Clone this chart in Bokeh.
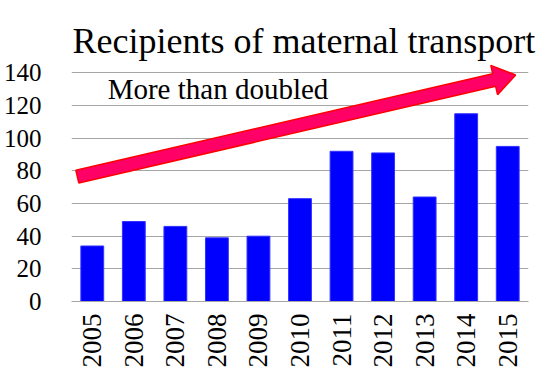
import math
from bokeh.plotting import figure
from bokeh.models import FactorRange, Range1d, FixedTicker
from bokeh.core.properties import value
from bokeh.embed import file_html
from bokeh.resources import INLINE

# ---- data ----
years = ["2005", "2006", "2007", "2008", "2009", "2010",
         "2011", "2012", "2013", "2014", "2015"]
counts = [34, 49, 46, 39, 40, 63, 92, 91, 64, 115, 95]
y_ticks = [0, 20, 40, 60, 80, 100, 120, 140]
title_text = "Recipients of maternal transport"
note_text = "More than doubled"
# arrow ends: (synthetic category coordinate, value)
arrow_start = (0.14, 76.5)
arrow_end = (10.69, 138.7)
note_pos = (0.87, 130.0)

# ---- layout ----
FW, FH = 457, 240
YMAX = 147
FONT = "Liberation Serif"

p = figure(frame_width=FW, frame_height=FH,
           x_range=FactorRange(factors=years, range_padding=0),
           y_range=Range1d(0, YMAX),
           output_backend="svg", toolbar_location=None,
           min_border_left=63, min_border_right=15,
           min_border_top=61, min_border_bottom=62)

p.title.text = title_text
p.title.text_font = FONT
p.title.text_font_size = "36px"
p.title.text_font_style = "normal"
p.title.text_color = "black"
p.title.align = "left"
p.title.offset = 1
p.title.standoff = 1

p.vbar(x=years, top=counts, width=0.55, fill_color="#0000FF",
       line_color="#3333FF", line_width=1)

# block arrow built in pixel space then mapped back to data units
sx = FW / len(years)
sy = FH / YMAX
x0, y0 = arrow_start[0] * sx, arrow_start[1] * sy
x1, y1 = arrow_end[0] * sx, arrow_end[1] * sy
L = math.hypot(x1 - x0, y1 - y0)
ux, uy = (x1 - x0) / L, (y1 - y0) / L
nx, ny = -uy, ux
hw, hh, hl = 6.5, 15.0, 22.0
bx, by = x1 - ux * hl, y1 - uy * hl
pts = [
    (x0 + nx * hw, y0 + ny * hw),
    (bx + nx * hw, by + ny * hw),
    (bx + nx * hh, by + ny * hh),
    (x1, y1),
    (bx - nx * hh, by - ny * hh),
    (bx - nx * hw, by - ny * hw),
    (x0 - nx * hw, y0 - ny * hw),
]
p.patch([q[0] / sx for q in pts], [q[1] / sy for q in pts],
        fill_color="#FF0066", line_color="#FF0000", line_width=1.5)

p.text(x=[note_pos[0]], y=[note_pos[1]], text=[note_text],
       text_font=value(FONT), text_font_size="29px", text_font_style="normal",
       text_color="black", text_baseline="alphabetic")

# axes
p.xaxis.axis_line_color = "#A6A6A6"
p.xaxis.major_tick_line_color = None
p.xaxis.minor_tick_line_color = None
p.xaxis.major_label_text_font = FONT
p.xaxis.major_label_text_font_style = "normal"
p.xaxis.major_label_text_font_size = "27px"
p.xaxis.major_label_text_color = "black"
p.xaxis.major_label_orientation = math.pi / 2
p.xaxis.major_label_standoff = 6

p.yaxis.ticker = FixedTicker(ticks=y_ticks)
p.yaxis.axis_line_color = None
p.yaxis.major_tick_line_color = None
p.yaxis.minor_tick_line_color = None
p.yaxis.major_label_text_font = FONT
p.yaxis.major_label_text_font_style = "normal"
p.yaxis.major_label_text_font_size = "25px"
p.yaxis.major_label_text_color = "black"
p.yaxis.major_label_standoff = 24

p.xgrid.grid_line_color = None
p.ygrid.ticker = FixedTicker(ticks=y_ticks)
p.ygrid.grid_line_color = "#A6A6A6"
p.ygrid.grid_line_width = 1
p.outline_line_color = None

open("out.html", "w").write(file_html(p, INLINE))
